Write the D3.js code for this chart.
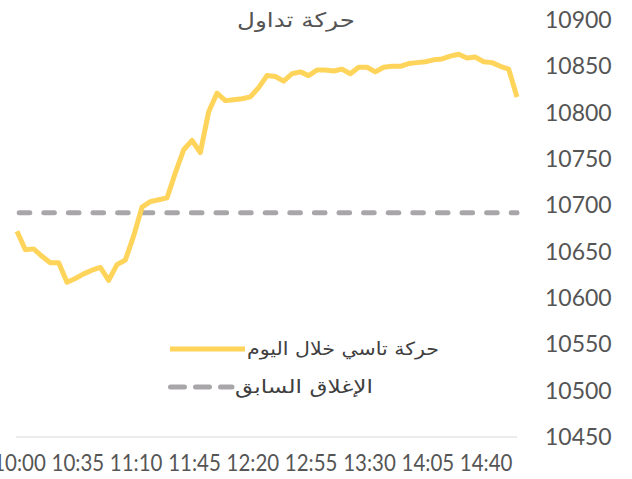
<!DOCTYPE html>
<html>
<head>
<meta charset="utf-8">
<script src="https://cdn.jsdelivr.net/npm/d3@7"></script>
<style>
  body { margin: 0; background: #fff; }
  svg { display: block; }
</style>
</head>
<body>
<div id="chart"></div>
<script>
// intraday index values, one every 5 minutes from 10:00 to 15:00
const values = [
  10672, 10652, 10653, 10645, 10638, 10638, 10617, 10621, 10626, 10630,
  10633, 10619, 10636, 10641, 10667, 10698, 10704, 10706, 10708, 10735,
  10760, 10770, 10757, 10801, 10821, 10813, 10814, 10815, 10817, 10827,
  10840, 10839, 10834, 10842, 10844, 10840, 10846, 10846, 10845, 10847,
  10842, 10849, 10849, 10844, 10849, 10850, 10850, 10853, 10854, 10855,
  10857, 10858, 10861, 10863, 10859, 10860, 10855, 10854, 10850, 10847,
  10817
];
const prevClose = 10692;

const timeLabels = ['10:00', '10:35', '11:10', '11:45', '12:20', '12:55', '13:30', '14:05', '14:40'];
const timeTickIdx = [0, 7, 14, 21, 28, 35, 42, 49, 56];
const yTicks = [10450, 10500, 10550, 10600, 10650, 10700, 10750, 10800, 10850, 10900];

const title = 'حركة تداول';
const seriesNames = ['حركة تاسي خلال اليوم', 'الإغلاق السابق'];

const svgWidth = 632;
const svgHeight = 479;

const svg = d3.select('#chart')
  .append('svg')
  .attr('width', svgWidth)
  .attr('height', svgHeight);

const x = d3.scaleLinear().domain([0, values.length - 1]).range([17, 517]);
const y = d3.scaleLinear().domain([10450, 10900]).range([437, 20]);

const yellow = '#ffd45a';
const grey = '#a9a6a9';
const textColor = '#555';

// scale a text node horizontally so it fills a given width
function fitWidth(sel, cx, cy, w) {
  const len = sel.node().getComputedTextLength();
  sel.attr('text-anchor', 'middle')
    .attr('transform', `translate(${cx},${cy}) scale(${w / len},1)`);
}

// baseline
svg.append('line')
  .attr('x1', 16).attr('x2', 517)
  .attr('y1', y(10450)).attr('y2', y(10450))
  .attr('stroke', '#d9d9d9')
  .attr('stroke-width', 1);

// right axis
const yAxis = svg.append('g')
  .attr('transform', 'translate(545,0)')
  .call(d3.axisRight(y).tickValues(yTicks).tickSize(0).tickPadding(0).tickFormat(d3.format('d')));
yAxis.select('.domain').remove();
yAxis.selectAll('text')
  .attr('font-family', 'Lato, sans-serif')
  .attr('font-size', 23)
  .attr('fill', textColor);

// bottom axis
const xAxis = svg.append('g')
  .attr('transform', `translate(2,${y(10450)})`)
  .call(d3.axisBottom(x).tickValues(timeTickIdx).tickSize(0).tickPadding(18)
    .tickFormat((d, i) => timeLabels[i]));
xAxis.select('.domain').remove();
xAxis.selectAll('text')
  .attr('font-family', 'Lato, sans-serif')
  .attr('font-size', 23)
  .attr('fill', textColor)
  .attr('transform', 'scale(0.89,1)');

// previous close
svg.append('line')
  .attr('x1', x(0) + 2.2).attr('x2', x(values.length - 1))
  .attr('y1', y(prevClose)).attr('y2', y(prevClose))
  .attr('stroke', grey)
  .attr('stroke-width', 5)
  .attr('stroke-linecap', 'round')
  .attr('stroke-dasharray', '10.6,14');

// today line
svg.append('path')
  .datum(values)
  .attr('fill', 'none')
  .attr('stroke', yellow)
  .attr('stroke-width', 5)
  .attr('stroke-linejoin', 'round')
  .attr('d', d3.line().x((d, i) => x(i)).y(d => y(d)));

// title
const t = svg.append('text')
  .attr('font-family', '"DejaVu Sans", sans-serif')
  .attr('font-size', 20)
  .attr('fill', textColor)
  .text(title);
fitWidth(t, 296, 27, 118);

// legend
svg.append('line')
  .attr('x1', 170).attr('x2', 245)
  .attr('y1', 349).attr('y2', 349)
  .attr('stroke', yellow)
  .attr('stroke-width', 5);
const l1 = svg.append('text')
  .attr('font-family', '"DejaVu Sans", sans-serif')
  .attr('font-size', 18)
  .attr('fill', '#404040')
  .text(seriesNames[0]);
fitWidth(l1, 343, 355, 192);

svg.append('line')
  .attr('x1', 170.5).attr('x2', 232)
  .attr('y1', 387).attr('y2', 387)
  .attr('stroke', grey)
  .attr('stroke-width', 5)
  .attr('stroke-linecap', 'round')
  .attr('stroke-dasharray', '14,11');
const l2 = svg.append('text')
  .attr('font-family', '"DejaVu Sans", sans-serif')
  .attr('font-size', 18)
  .attr('fill', '#404040')
  .text(seriesNames[1]);
fitWidth(l2, 304, 393, 138);
</script>
</body>
</html>
